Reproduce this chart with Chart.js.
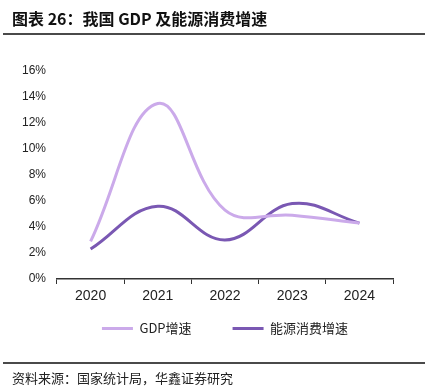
<!DOCTYPE html>
<html>
<head>
<meta charset="utf-8">
<script src="https://cdn.jsdelivr.net/npm/chart.js@4/dist/chart.umd.min.js"></script>
<style>
  html, body { margin: 0; padding: 0; background: #fff; overflow: hidden; }
  #wrap { position: relative; width: 427px; height: 392px; }
  #title { position: absolute; left: 12px; top: 8px; font-family: "Noto Sans CJK SC", sans-serif; font-weight: bold; font-size: 16px; color: #111; line-height: 20px; white-space: nowrap; }
  #rule1 { position: absolute; left: 3px; top: 33px; width: 422px; height: 2px; background: #4a4a4a; }
  #rule2 { position: absolute; left: 3px; top: 362px; width: 422px; height: 2px; background: #4a4a4a; }
  #src { position: absolute; left: 12px; top: 369px; font-family: "Noto Sans CJK SC", sans-serif; font-size: 13px; color: #222; line-height: 18px; white-space: nowrap; }
  canvas { position: absolute; left: 0; top: 0; }
</style>
</head>
<body>
<div id="wrap">
  <canvas id="c" width="427" height="392"></canvas>
  <div id="title">图表 26：我国 GDP 及能源消费增速</div>
  <div id="rule1"></div>
  <div id="rule2"></div>
  <div id="src">资料来源：国家统计局，华鑫证券研究</div>
</div>
<script>
const years = ["2020", "2021", "2022", "2023", "2024"];
const gdpGrowth = [2.9, 13.5, 5.3, 4.9, 4.3];
const energyGrowth = [2.3, 5.6, 3.0, 5.8, 4.3];
const seriesNames = ["GDP增速", "能源消费增速"];
const yTicks = [0, 2, 4, 6, 8, 10, 12, 14, 16];

const numFont = "'Liberation Sans Narrow', 'Liberation Sans', Arial, sans-serif";

// move the legend up so its row sits where the reference has it
const legendShift = {
  id: 'legendShift',
  afterLayout(chart) {
    const lg = chart.legend;
    if (lg) { lg.top -= 28; lg.bottom -= 28; }
  }
};

new Chart(document.getElementById('c'), {
  type: 'line',
  data: {
    labels: years,
    datasets: [
      { label: seriesNames[0], data: gdpGrowth, borderColor: '#CBAAEA', backgroundColor: '#CBAAEA', borderWidth: 3, pointRadius: 0, tension: 0.4, fill: false },
      { label: seriesNames[1], data: energyGrowth, borderColor: '#7A58B3', backgroundColor: '#7A58B3', borderWidth: 3, pointRadius: 0, tension: 0.4, fill: false }
    ]
  },
  plugins: [legendShift],
  options: {
    responsive: false,
    devicePixelRatio: 1,
    animation: false,
    layout: { padding: { top: 71, right: 34, left: 0, bottom: 19 } },
    plugins: {
      tooltip: { enabled: false },
      legend: {
        position: 'bottom',
        fullSize: false,
        labels: {
          usePointStyle: true,
          pointStyle: 'line',
          pointStyleWidth: 31,
          padding: 41,
          color: '#222',
          font: { family: "'Noto Sans CJK SC', sans-serif", size: 13 }
        }
      }
    },
    scales: {
      x: {
        offset: true,
        grid: { display: true, drawOnChartArea: false, offset: true, tickLength: 5, color: '#333', lineWidth: 1 },
        border: { display: true, color: '#333', width: 1.5 },
        ticks: { padding: 4, color: '#222', font: { family: numFont, size: 14 } },
        afterFit: (s) => { s.height = 30; }
      },
      y: {
        min: 0,
        max: 16,
        afterBuildTicks: (s) => { s.ticks = yTicks.map(v => ({ value: v })); },
        grid: { display: false, drawTicks: false },
        border: { display: false },
        ticks: { padding: 11, color: '#222', font: { family: numFont, size: 12 }, callback: (v) => v + '%' },
        afterFit: (s) => { s.width = 57; }
      }
    }
  }
});
</script>
</body>
</html>
